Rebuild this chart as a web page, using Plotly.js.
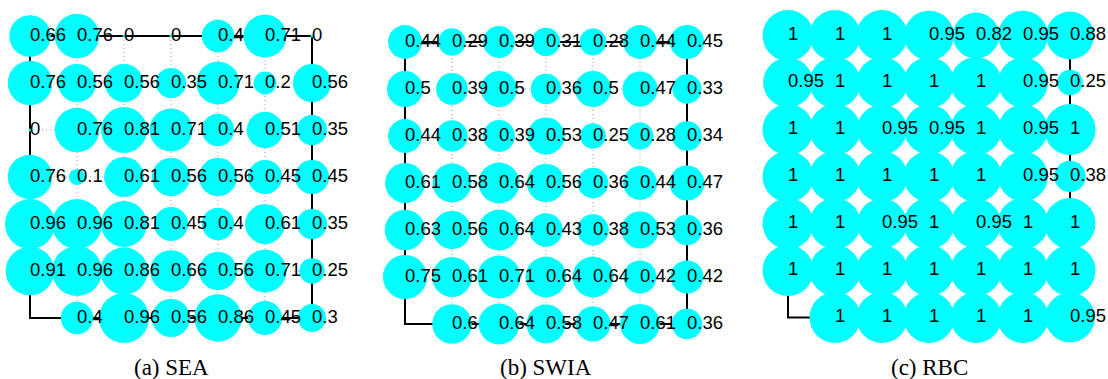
<!DOCTYPE html>
<html>
<head>
<meta charset="utf-8">
<script src="https://cdn.plot.ly/plotly-3.0.1.min.js"></script>
<style>
  html, body { margin: 0; padding: 0; background: #ffffff; }
  #chart { width: 1108px; height: 379px; }
</style>
</head>
<body>
<div id="chart"></div>
<script>
// Grid positions (columns left to right, rows top to bottom)
const columns = [0, 1, 2, 3, 4, 5, 6];
const rows = [0, 1, 2, 3, 4, 5, 6];

// Panel captions
const panelTitles = ['(a) SEA', '(b) SWIA', '(c) RBC'];

// Per-cell scores, one list per row (top row first); null = empty cell
const seaScores = [
  [0.66, 0.76, 0, 0, 0.4, 0.71, 0],
  [0.76, 0.56, 0.56, 0.35, 0.71, 0.2, 0.56],
  [0, 0.76, 0.81, 0.71, 0.4, 0.51, 0.35],
  [0.76, 0.1, 0.61, 0.56, 0.56, 0.45, 0.45],
  [0.96, 0.96, 0.81, 0.45, 0.4, 0.61, 0.35],
  [0.91, 0.96, 0.86, 0.66, 0.56, 0.71, 0.25],
  [null, 0.4, 0.96, 0.56, 0.86, 0.45, 0.3]
];

const swiaScores = [
  [0.44, 0.29, 0.39, 0.31, 0.28, 0.44, 0.45],
  [0.5, 0.39, 0.5, 0.36, 0.5, 0.47, 0.33],
  [0.44, 0.38, 0.39, 0.53, 0.25, 0.28, 0.34],
  [0.61, 0.58, 0.64, 0.56, 0.36, 0.44, 0.47],
  [0.63, 0.56, 0.64, 0.43, 0.38, 0.53, 0.36],
  [0.75, 0.61, 0.71, 0.64, 0.64, 0.42, 0.42],
  [null, 0.6, 0.64, 0.58, 0.47, 0.61, 0.36]
];

const rbcScores = [
  [1, 1, 1, 0.95, 0.82, 0.95, 0.88],
  [0.95, 1, 1, 1, 1, 0.95, 0.25],
  [1, 1, 0.95, 0.95, 1, 0.95, 1],
  [1, 1, 1, 1, 1, 0.95, 0.38],
  [1, 1, 0.95, 1, 0.95, 1, 1],
  [1, 1, 1, 1, 1, 1, 1],
  [null, 1, 1, 1, 1, 1, 0.95]
];

const panelScores = [seaScores, swiaScores, rbcScores];

// ---- layout geometry (pixels) ----
const W = 1108, H = 379;
const STEP = 47;                   // pixels between neighbouring grid points
const PAD = 0.5;                   // axis padding in grid units
const panelLeft = [30, 405, 788];  // pixel x of first column
const panelTop = [36, 42, 35.5];   // pixel y of first row
const BUBBLE_SCALE = 51;           // diameter (px) of a bubble with score 1

const BUBBLE_COLOR = '#00ffff';
const NUM_FONT = 'Liberation Sans, Arial, Helvetica, sans-serif';
const CAP_FONT = 'Liberation Serif, Times New Roman, serif';

const traces = [];
const layout = {
  width: W, height: H,
  margin: {l: 0, r: 0, t: 0, b: 0},
  paper_bgcolor: '#ffffff',
  plot_bgcolor: 'rgba(0,0,0,0)',
  showlegend: false,
  annotations: []
};

const firstC = columns[0], lastC = columns[columns.length - 1];
const firstR = rows[0], lastR = rows[rows.length - 1];

panelScores.forEach((scores, p) => {
  const xa = p === 0 ? 'x' : 'x' + (p + 1);
  const ya = p === 0 ? 'y' : 'y' + (p + 1);

  // dotted interior lattice
  const gx = [], gy = [];
  columns.slice(1, -1).forEach(c => { gx.push(c, c, null); gy.push(firstR, lastR, null); });
  rows.slice(1, -1).forEach(r => { gx.push(firstC, lastC, null); gy.push(r, r, null); });
  traces.push({
    type: 'scatter', mode: 'lines', x: gx, y: gy, xaxis: xa, yaxis: ya,
    line: {color: '#a0a0a0', width: 1, dash: '1px,3px'},
    hoverinfo: 'skip', cliponaxis: false
  });

  // solid outer frame
  traces.push({
    type: 'scatter', mode: 'lines',
    x: [firstC, lastC, lastC, firstC, firstC],
    y: [firstR, firstR, lastR, lastR, firstR],
    xaxis: xa, yaxis: ya,
    line: {color: '#000000', width: 2},
    hoverinfo: 'skip', cliponaxis: false
  });

  // bubbles and value labels
  const bx = [], by = [], bs = [], bt = [];
  rows.forEach((r, ri) => {
    columns.forEach((c, ci) => {
      const v = scores[ri][ci];
      if (v === null) return;
      bx.push(c); by.push(r);
      bs.push(Math.max(3, BUBBLE_SCALE * Math.sqrt(v)));
      bt.push(String(v));
    });
  });
  traces.push({
    type: 'scatter', mode: 'markers', x: bx, y: by, xaxis: xa, yaxis: ya,
    marker: {color: BUBBLE_COLOR, size: bs, line: {width: 0}, opacity: 1},
    hoverinfo: 'skip', cliponaxis: false
  });
  traces.push({
    type: 'scatter', mode: 'text', x: bx, y: by, xaxis: xa, yaxis: ya,
    text: bt, textposition: 'middle right',
    textfont: {family: NUM_FONT, size: 18.5, color: '#000000'},
    hoverinfo: 'skip', cliponaxis: false
  });

  // axis domains from pixel geometry
  const x0 = panelLeft[p] - PAD * STEP;
  const x1 = panelLeft[p] + (lastC + PAD) * STEP;
  const yTop = panelTop[p] - PAD * STEP;
  const yBot = panelTop[p] + (lastR + PAD) * STEP;
  layout[p === 0 ? 'xaxis' : 'xaxis' + (p + 1)] = {
    domain: [x0 / W, x1 / W], range: [firstC - PAD, lastC + PAD],
    visible: false, fixedrange: true, anchor: ya
  };
  layout[p === 0 ? 'yaxis' : 'yaxis' + (p + 1)] = {
    domain: [1 - yBot / H, 1 - yTop / H], range: [lastR + PAD, firstR - PAD],
    visible: false, fixedrange: true, anchor: xa
  };

  layout.annotations.push({
    text: panelTitles[p], showarrow: false,
    xref: 'paper', yref: 'paper',
    x: (panelLeft[p] + (lastC / 2) * STEP) / W, xanchor: 'center',
    y: 1 - 367 / H, yanchor: 'middle',
    font: {family: CAP_FONT, size: 23, color: '#000000'}
  });
});

Plotly.newPlot('chart', traces, layout, {staticPlot: true, displayModeBar: false});
</script>
</body>
</html>
